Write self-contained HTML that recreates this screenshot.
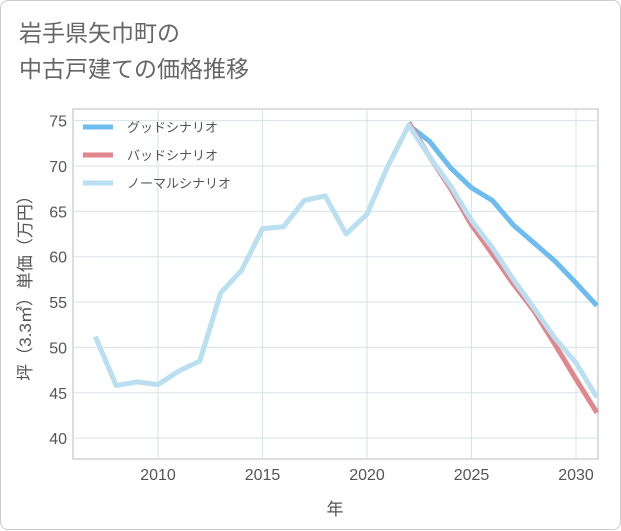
<!DOCTYPE html>
<html><head><meta charset="utf-8">
<style>
body{margin:0;background:#fff;font-family:"Liberation Sans","Noto Sans CJK JP",sans-serif;}
#wrap{position:relative;width:619px;height:528px;border:1px solid #ccc;border-radius:8px;background:#fff;}
#title{position:absolute;left:18px;top:14px;font-size:23px;line-height:36px;color:#666;}
svg{position:absolute;left:0;top:0;}
</style></head><body>
<div id="wrap">
<div id="title">岩手県矢巾町の<br>中古戸建ての価格推移</div>
<svg id="chart" width="621" height="530"></svg>
</div>
<script>
const years=[2007,2008,2009,2010,2011,2012,2013,2014,2015,2016,2017,2018,2019,2020,2021,2022,2023,2024,2025,2026,2027,2028,2029,2030,2031];
const normalVals=[51.2,45.8,46.2,45.9,47.4,48.5,56,58.5,63.1,63.3,66.2,66.7,62.5,64.7,70,74.5,71,67.8,64,61,57.5,54.3,51,48.3,44.5];
const goodYears=[2022,2023,2024,2025,2026,2027,2028,2029,2030,2031];
const goodVals=[74.5,72.7,69.8,67.6,66.2,63.5,61.5,59.5,57.1,54.6];
const badVals=[74.8,71.0,67.5,63.5,60.3,57,54,50.3,46.5,42.8];
const xTicks=[2010,2015,2020,2025,2030];
const yTicks=[40,45,50,55,60,65,70,75];
const legendLabels=["グッドシナリオ","バッドシナリオ","ノーマルシナリオ"];
const colors=["#6cbcef","#e0868c","#b9dff0"];
const L=72,R=597,T=108,B=458;
const x=v=>157+(v-2010)*20.9;
const y=v=>165-(v-70)*9.07;
const svg=document.getElementById('chart');
const NS='http://www.w3.org/2000/svg';
function mk(t,a){const e=document.createElementNS(NS,t);for(const k in a)e.setAttribute(k,a[k]);svg.appendChild(e);return e;}
const bg=mk('rect',{x:L,y:T,width:R-L,height:B-T,fill:'#fff',stroke:'#bbb'});


for(const t of yTicks){
 const g=mk('line',{x1:L,x2:R,y1:y(t),y2:y(t),stroke:'#d5e3ea'});
 
 
 const tx=mk('text',{x:L-6,y:y(t)+6,'text-anchor':'end','font-size':16,fill:'#555'});tx.textContent=t;
 
 
}
for(const t of xTicks){
 const g=mk('line',{x1:x(t),x2:x(t),y1:T,y2:B,stroke:'#d5e3ea'});
 
 
 const tx=mk('text',{x:x(t),y:B+21,'text-anchor':'middle','font-size':16,fill:'#555'});tx.textContent=t;
 
 
}
function line(xs,vs,c,name){
 const p=mk('polyline',{points:xs.map((v,i)=>x(v)+','+y(vs[i])).join(' '),fill:'none',stroke:c,'stroke-width':5,'stroke-linejoin':'round'});
 
 
}
line(goodYears,goodVals,colors[0],'good-scenario-line');
line(goodYears,badVals,colors[1],'bad-scenario-line');
line(years,normalVals,colors[2],'normal-scenario-line');
legendLabels.forEach((s,i)=>{
 const yy=126+i*28;
 const l=mk('line',{x1:82,x2:112,y1:yy,y2:yy,stroke:colors[i],'stroke-width':5});
 
 
 const t=mk('text',{x:126,y:yy+5,'font-size':13,fill:'#555'});t.textContent=s;
 
 
});
const xt=mk('text',{x:334,y:514,'text-anchor':'middle','font-size':17,fill:'#555'});xt.textContent='年';


const yt=mk('text',{x:0,y:0,'text-anchor':'middle','font-size':17,fill:'#555',transform:'translate(30,283) rotate(-90)'});yt.textContent='坪（3.3㎡）単価（万円）';


</script>
</body></html>
